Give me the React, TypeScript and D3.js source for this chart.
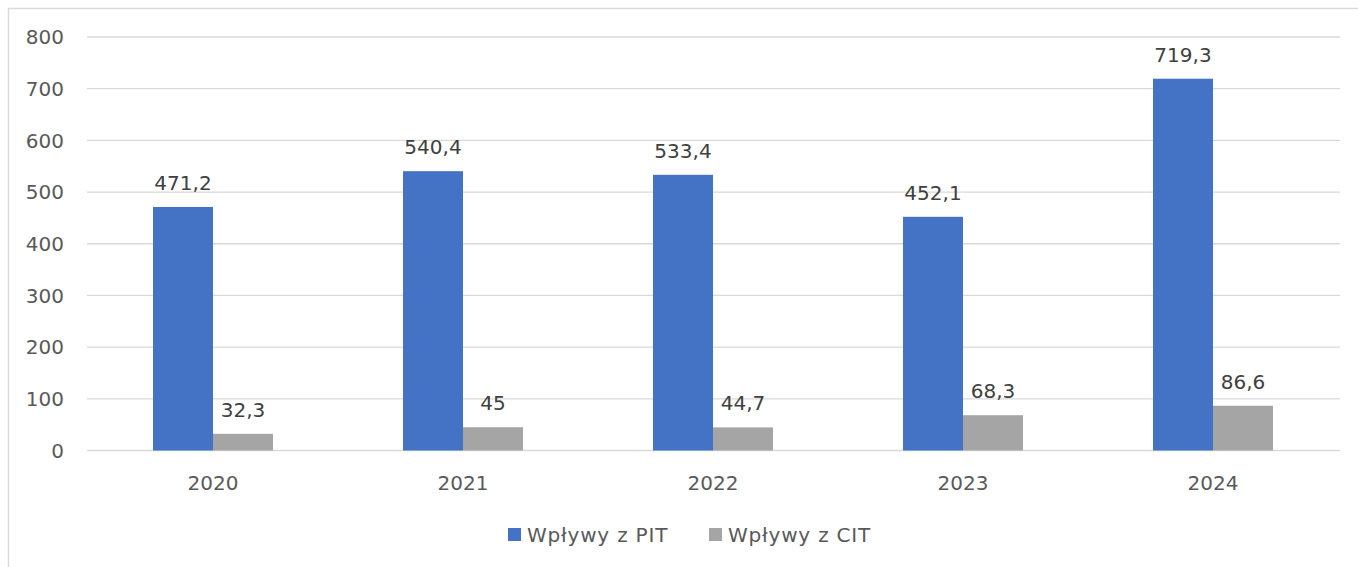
import React from 'react';
import * as d3 from 'd3';

const years = ['2020', '2021', '2022', '2023', '2024'];
const pitValues = [471.2, 540.4, 533.4, 452.1, 719.3];
const citValues = [32.3, 45, 44.7, 68.3, 86.6];
const yTicks = [0, 100, 200, 300, 400, 500, 600, 700, 800];
const seriesNames = ['Wpływy z PIT', 'Wpływy z CIT'];
const colors = ['#4472C4', '#A5A5A5'];

const W = 1358;
const H = 567;
const FONT = '"DejaVu Sans", sans-serif';
const TEXT = '#595959';

const fmt = (v: number) => String(v).replace('.', ',');

export default function App() {
  const x = d3.scaleBand<string>()
    .domain(years)
    .range([88, 1338])
    .paddingInner(0.52)
    .paddingOuter(0.26);
  const inner = d3.scaleBand<number>()
    .domain([0, 1])
    .range([0, x.bandwidth()]);
  const y = d3.scaleLinear().domain([0, 800]).range([450.5, 37]);

  const series = [pitValues, citValues];

  return (
    <svg width={W} height={H} style={{ position: 'absolute', left: 0, top: 0 }} fontFamily={FONT}>
      <rect x={0} y={0} width={W} height={H} fill="#fff" />
      <rect x={8.5} y={8.5} width={W + 10} height={H + 10} fill="none" stroke="#D9D9D9" strokeWidth={1.5} />

      {/* gridlines + y labels */}
      {yTicks.map((t) => (
        <g key={t}>
          <line x1={87} x2={1340} y1={y(t)} y2={y(t)} stroke="#D9D9D9" strokeWidth={1.3} />
          <text x={64} y={y(t)} dy="0.36em" textAnchor="end" fontSize={20} fill={TEXT}>{t}</text>
        </g>
      ))}

      {/* bars */}
      {series.map((vals, si) =>
        vals.map((v, i) => {
          const bx = (x(years[i]) ?? 0) + (inner(si) ?? 0);
          const bw = inner.bandwidth();
          return (
            <g key={`${si}-${i}`}>
              <rect x={bx} y={y(v)} width={bw} height={y(0) - y(v)} fill={colors[si]} />
              <text x={bx + bw / 2} y={y(v) - 17} textAnchor="middle" fontSize={20} fill="#404040">{fmt(v)}</text>
            </g>
          );
        })
      )}

      {/* x labels */}
      {years.map((yr) => (
        <text key={yr} x={(x(yr) ?? 0) + x.bandwidth() / 2} y={490} textAnchor="middle" fontSize={20} fill={TEXT}>{yr}</text>
      ))}

      {/* legend */}
      {seriesNames.map((name, i) => (
        <g key={name} transform={`translate(${508 + i * 201}, 528)`}>
          <rect x={0} y={0} width={13} height={13} fill={colors[i]} />
          <text x={19} y={14} fontSize={20} letterSpacing={0.8} fill={TEXT}>{name}</text>
        </g>
      ))}
    </svg>
  );
}
